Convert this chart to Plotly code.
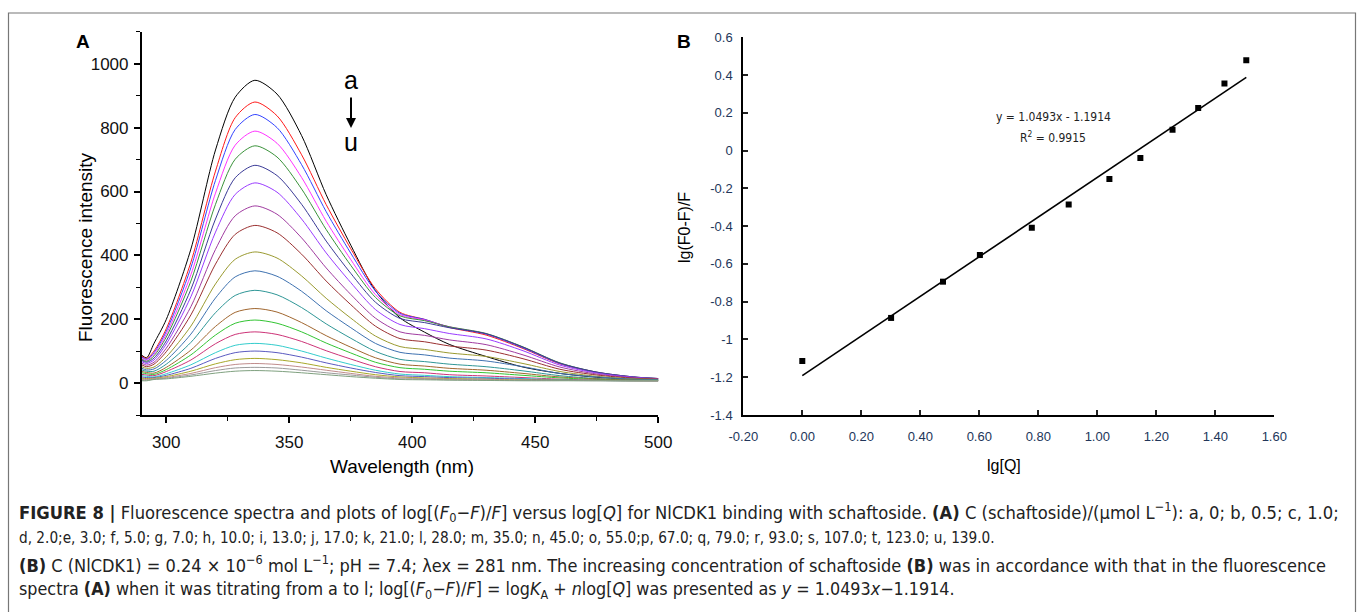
import plotly.graph_objects as go

W, H = 1357, 612

def px(x):
    return x / W

def py(y):
    return 1 - y / H

# ---------------- Panel A data: fluorescence spectra ----------------
wavelength = [290, 292, 295, 300, 310, 320, 328, 336, 345, 355, 365, 375, 385, 395, 405, 415, 430, 445, 460, 475, 490, 500]

spec_a = [88, 80, 125, 200, 420, 730, 895, 948, 905, 775, 590, 432, 290, 205, 160, 122, 84, 51, 31, 19, 13, 11]
spec_b = [85, 78, 101, 171, 379, 664, 831, 880, 837, 715, 559, 421, 296, 222, 200, 175, 151, 109, 61, 34, 19, 14]
spec_c = [82, 75, 96, 163, 362, 635, 794, 841, 800, 684, 537, 407, 289, 219, 200, 176, 154, 111, 62, 34, 19, 15]
spec_d = [78, 72, 91, 154, 340, 595, 745, 789, 751, 644, 507, 387, 278, 215, 198, 177, 155, 113, 63, 35, 20, 15]
spec_e = [75, 69, 86, 145, 320, 560, 701, 743, 708, 608, 481, 369, 269, 211, 196, 177, 156, 114, 64, 35, 20, 15]
spec_f = [72, 66, 79, 133, 294, 514, 643, 682, 650, 560, 445, 344, 254, 203, 190, 174, 155, 113, 63, 35, 20, 15]
spec_g = [68, 62, 73, 123, 271, 473, 591, 627, 598, 514, 408, 315, 231, 184, 171, 156, 139, 102, 57, 32, 19, 14]
spec_h = [63, 57, 66, 110, 240, 419, 524, 555, 529, 455, 361, 278, 204, 161, 150, 136, 121, 89, 51, 29, 17, 14]
spec_i = [58, 52, 60, 99, 214, 373, 466, 494, 471, 404, 320, 246, 179, 140, 130, 117, 104, 77, 44, 26, 16, 13]
spec_j = [52, 47, 51, 83, 179, 311, 388, 411, 392, 336, 266, 204, 148, 115, 106, 95, 84, 62, 37, 22, 14, 12]
spec_k = [47, 42, 45, 72, 154, 267, 333, 352, 335, 288, 227, 174, 125, 97, 89, 79, 70, 52, 31, 20, 13, 11]
spec_l = [42, 38, 38, 60, 128, 221, 275, 291, 277, 237, 186, 141, 100, 75, 68, 60, 52, 39, 24, 15, 11, 10]
spec_m = [37, 34, 32, 50, 104, 178, 222, 234, 223, 190, 149, 113, 80, 60, 54, 47, 41, 31, 20, 14, 10, 9]
spec_n = [33, 30, 28, 43, 89, 151, 188, 198, 188, 161, 126, 95, 66, 49, 44, 38, 33, 25, 17, 12, 9, 9]
spec_o = [28, 26, 24, 37, 73, 124, 153, 161, 153, 131, 102, 76, 52, 37, 33, 27, 23, 18, 13, 10, 9, 8]
spec_p = [24, 22, 20, 30, 58, 96, 119, 125, 119, 101, 79, 59, 41, 29, 25, 21, 18, 15, 11, 9, 8, 8]
spec_q = [20, 18, 18, 25, 47, 78, 96, 101, 96, 82, 64, 48, 34, 24, 21, 18, 16, 13, 10, 9, 8, 8]
spec_r = [16, 15, 16, 21, 38, 61, 74, 78, 74, 64, 50, 38, 27, 20, 17, 15, 13, 11, 10, 9, 8, 8]
spec_s = [13, 12, 14, 18, 31, 49, 59, 62, 59, 51, 41, 31, 22, 17, 15, 13, 11, 10, 9, 9, 8, 8]
spec_t = [10, 10, 13, 16, 26, 40, 48, 50, 48, 41, 33, 26, 19, 14, 13, 11, 10, 9, 9, 8, 8, 8]
spec_u = [8, 8, 12, 14, 22, 32, 38, 40, 38, 33, 27, 21, 16, 12, 11, 10, 9, 8, 8, 8, 8, 8]

curve_names = list("abcdefghijklmnopqrstu")
curve_values = [spec_a, spec_b, spec_c, spec_d, spec_e, spec_f, spec_g, spec_h, spec_i, spec_j,
                spec_k, spec_l, spec_m, spec_n, spec_o, spec_p, spec_q, spec_r, spec_s, spec_t, spec_u]
curve_colors = ["#000000", "#ff1a1a", "#3344ff", "#ff33ff", "#3a923a", "#3a3a96", "#9a3cff",
                "#a03ca0", "#9a3030", "#9a9a30", "#3f72b0", "#2f9696", "#a0662f", "#33c433",
                "#cc3377", "#33cccc", "#5a5ac0", "#a8a82a", "#c08c8c", "#9a9a9a", "#7fa07f"]

a_ticks = [0, 200, 400, 600, 800, 1000]
wl_ticks = [300, 350, 400, 450, 500]

# ---------------- Panel B data: double-log plot ----------------
lgQ = [0.000, 0.301, 0.477, 0.602, 0.778, 0.903, 1.041, 1.146, 1.255, 1.342, 1.431, 1.505]
lgF = [-1.114, -0.886, -0.694, -0.553, -0.409, -0.285, -0.150, -0.039, 0.111, 0.226, 0.356, 0.479]
fit_slope = 1.0493
fit_intercept = -1.1914
fit_x = [0.0, 1.505]
fit_y = [fit_slope * v + fit_intercept for v in fit_x]

b_xticks = [-0.2, 0.0, 0.2, 0.4, 0.6, 0.8, 1.0, 1.2, 1.4, 1.6]
b_xticktext = ["-0.20", "0.00", "0.20", "0.40", "0.60", "0.80", "1.00", "1.20", "1.40", "1.60"]
b_yticks = [0.6, 0.4, 0.2, 0.0, -0.2, -0.4, -0.6, -0.8, -1.0, -1.2, -1.4]
b_yticktext = ["0.6", "0.4", "0.2", "0", "-0.2", "-0.4", "-0.6", "-0.8", "-1", "-1.2", "-1.4"]

FONT = "Liberation Sans, Arial, Helvetica, sans-serif"
NARROW = "Liberation Sans Narrow, Arial Narrow, DejaVu Sans Condensed, sans-serif"
BLUE_TXT = "#22365a"

fig = go.Figure()

for name, vals, col in zip(curve_names, curve_values, curve_colors):
    fig.add_trace(go.Scatter(
        x=wavelength, y=vals, mode="lines", name=name,
        line=dict(color=col, width=1, shape="spline", smoothing=0.8),
        xaxis="x", yaxis="y", showlegend=False, hoverinfo="skip"))

fig.add_trace(go.Scatter(
    x=lgQ, y=lgF, mode="markers",
    marker=dict(symbol="square", size=6, color="black"),
    xaxis="x2", yaxis="y2", showlegend=False))
fig.add_trace(go.Scatter(
    x=fit_x, y=fit_y, mode="lines",
    line=dict(color="black", width=1.6),
    xaxis="x2", yaxis="y2", showlegend=False))

axis_common = dict(showgrid=False, zeroline=False, showline=True, linecolor="black",
                   mirror=False, automargin=False)

fig.update_layout(
    width=W, height=H, autosize=False,
    margin=dict(l=0, r=0, t=0, b=0, pad=0),
    paper_bgcolor="white", plot_bgcolor="rgba(0,0,0,0)",
    xaxis=dict(domain=[px(141.7), px(658.3)], anchor="y", range=[290, 500],
               tickvals=wl_ticks, ticks="outside", ticklen=6, tickwidth=1.5,
               linewidth=1.6, tickcolor="black",
               minor=dict(ticks="outside", ticklen=4, tickwidth=1.3, dtick=25, tick0=275, tickcolor="black"),
               tickfont=dict(family=FONT, size=17, color="#111"), ticklabelstandoff=4,
               **axis_common),
    yaxis=dict(domain=[py(415.3), py(31.7)], anchor="x", range=[-100, 1100],
               tickvals=a_ticks, ticks="outside", ticklen=6, tickwidth=1.5,
               linewidth=1.6, tickcolor="black",
               minor=dict(ticks="outside", ticklen=4, tickwidth=1.3, dtick=200, tick0=100, tickcolor="black"),
               tickfont=dict(family=FONT, size=17, color="#111"), ticklabelstandoff=2,
               **axis_common),
    xaxis2=dict(domain=[px(743.3), px(1274.3)], anchor="y2", range=[-0.2, 1.6],
                tickvals=b_xticks, ticktext=b_xticktext, ticks="inside", ticklen=5, tickwidth=1.5,
                linewidth=2, tickcolor="#222",
                tickfont=dict(family=FONT, size=13, color=BLUE_TXT), ticklabelstandoff=8,
                **axis_common),
    yaxis2=dict(domain=[py(415), py(37.3)], anchor="x2", range=[-1.4, 0.6],
                tickvals=b_yticks, ticktext=b_yticktext, ticks="inside", ticklen=5, tickwidth=1.5,
                linewidth=2, tickcolor="#222",
                tickfont=dict(family=FONT, size=13, color=BLUE_TXT), ticklabelstandoff=6,
                **axis_common),
)

ann = []
def note(text, x, y, size, family=FONT, color="black", xanchor="center", yanchor="middle", angle=0, **kw):
    ann.append(dict(text=text, x=px(x), y=py(y), xref="paper", yref="paper", showarrow=False,
                    font=dict(family=family, size=size, color=color), xanchor=xanchor,
                    yanchor=yanchor, textangle=angle, **kw))

note("<b>A</b>", 83, 42, 19)
note("<b>B</b>", 684, 42, 19)
note("a", 351, 80, 25)
note("u", 351, 142, 25)
note("Fluorescence intensity", 85, 247, 19, angle=-90)
note("Wavelength (nm)", 402, 466, 19)
note("lg(F0-F)/F", 684, 228, 16, angle=-90)
note("lg[Q]", 1004, 465, 16)
ann.append(dict(x=0.851, y=0.178, xref="x2", yref="y2", showarrow=False,
                text="y = 1.0493x - 1.1914", font=dict(family=NARROW, size=12, color="#222")))
ann.append(dict(x=0.851, y=0.072, xref="x2", yref="y2", showarrow=False,
                text="R<sup>2</sup> = 0.9915", font=dict(family=NARROW, size=12, color="#222")))
# arrow a -> u
ann.append(dict(x=px(351), y=py(128), ax=0, ay=-32, xref="paper", yref="paper",
                axref="pixel", ayref="pixel", showarrow=True, arrowhead=2, arrowsize=1,
                arrowwidth=2, arrowcolor="black", text=""))

cap1 = ("<b>FIGURE 8 |</b> Fluorescence spectra and plots of log[(<i>F</i><sub>0</sub>−<i>F</i>)/<i>F</i>] versus "
        "log[<i>Q</i>] for NlCDK1 binding with schaftoside. <b>(A)</b> C (schaftoside)/(μmol L<sup>−1</sup>): "
        "a, 0; b, 0.5; c, 1.0;")
cap2 = ("d, 2.0;e, 3.0; f, 5.0; g, 7.0; h, 10.0; i, 13.0; j, 17.0; k, 21.0; l, 28.0; m, 35.0; n, 45.0; "
        "o, 55.0;p, 67.0; q, 79.0; r, 93.0; s, 107.0; t, 123.0; u, 139.0.")
cap3 = ("<b>(B)</b> C (NlCDK1) = 0.24 × 10<sup>−6</sup> mol L<sup>−1</sup>; pH = 7.4; λex = 281 nm. "
        "The increasing concentration of schaftoside <b>(B)</b> was in accordance with that in the fluorescence")
cap4 = ("spectra <b>(A)</b> when it was titrating from a to l; log[(<i>F</i><sub>0</sub>−<i>F</i>)/<i>F</i>] = "
        "log<i>K</i><sub>A</sub> + <i>n</i>log[<i>Q</i>] was presented as <i>y</i> = 1.0493<i>x</i>−1.1914.")
for txt, yy, fs in [(cap1, 512, 18.2), (cap2, 538, 15.2), (cap3, 564, 18.0), (cap4, 590, 17.8)]:
    note(txt, 17, yy, fs, family=NARROW, color="#222", xanchor="left")

fig.update_layout(annotations=ann)

fig.add_shape(type="rect", xref="paper", yref="paper",
              x0=px(8.5), x1=px(1355.5), y0=py(640), y1=py(13),
              line=dict(color="#777", width=1.2), fillcolor="rgba(0,0,0,0)")

fig.write_html("out.html", config={"displayModeBar": False, "responsive": False},
               post_script="document.body.style.margin='0';document.body.style.padding='0';"
                           "document.body.style.overflow='hidden';"
                           "document.documentElement.style.overflow='hidden';")
